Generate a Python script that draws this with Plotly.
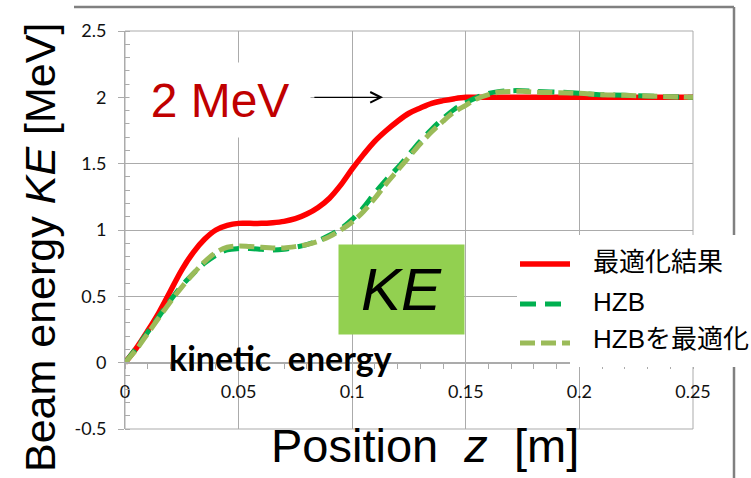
import plotly.graph_objects as go

# ---------------- data ----------------
z_pos = [0.000, 0.005, 0.010, 0.015, 0.020, 0.025, 0.030, 0.035, 0.040, 0.045,
         0.050, 0.055, 0.060, 0.065, 0.070, 0.075, 0.080, 0.085, 0.090, 0.095,
         0.100, 0.105, 0.110, 0.115, 0.120, 0.125, 0.130, 0.135, 0.140, 0.145,
         0.150, 0.155, 0.160, 0.165, 0.170, 0.175, 0.180, 0.190, 0.200, 0.210,
         0.220, 0.230, 0.240, 0.250]

ke_optimized = [0.00, 0.11, 0.24, 0.38, 0.54, 0.70, 0.83, 0.93, 1.00, 1.035,
                1.05, 1.05, 1.05, 1.055, 1.065, 1.085, 1.12, 1.17, 1.24, 1.34,
                1.46, 1.57, 1.67, 1.75, 1.82, 1.88, 1.92, 1.955, 1.975, 1.99,
                2.00, 2.00, 2.00, 2.00, 2.00, 2.00, 2.00, 2.00, 2.00, 2.00,
                2.00, 2.00, 2.00, 2.00]

ke_hzb = [0.00, 0.11, 0.23, 0.35, 0.47, 0.58, 0.67, 0.75, 0.81, 0.85,
          0.86, 0.86, 0.855, 0.85, 0.855, 0.87, 0.89, 0.92, 0.96, 1.01,
          1.08, 1.17, 1.28, 1.38, 1.47, 1.57, 1.67, 1.76, 1.84, 1.91,
          1.96, 2.00, 2.03, 2.045, 2.05, 2.05, 2.045, 2.04, 2.03, 2.02,
          2.015, 2.01, 2.005, 2.00]

ke_hzb_opt = [0.00, 0.10, 0.22, 0.34, 0.46, 0.57, 0.67, 0.76, 0.83, 0.87,
              0.88, 0.875, 0.87, 0.865, 0.865, 0.875, 0.89, 0.915, 0.95, 1.00,
              1.06, 1.14, 1.24, 1.35, 1.45, 1.55, 1.65, 1.74, 1.82, 1.89,
              1.94, 1.99, 2.02, 2.04, 2.045, 2.045, 2.04, 2.035, 2.03, 2.02,
              2.015, 2.01, 2.005, 2.00]

series_names = ["最適化結果", "HZB", "HZBを最適化"]

x_tickvals = [0, 0.05, 0.10, 0.15, 0.20, 0.25]
x_ticktext = ["0", "0.05", "0.1", "0.15", "0.2", "0.25"]
y_tickvals = [-0.5, 0, 0.5, 1.0, 1.5, 2.0, 2.5]
y_ticktext = ["-0.5", "0", "0.5", "1", "1.5", "2", "2.5"]

# ---------------- styles ----------------
RED = "#FF0000"
DGREEN = "#00B050"
LGREEN = "#9BBB59"
GRID = "#ababab"
FRAME = "#808080"
TICKFONT = dict(family="Lato, Carlito, sans-serif", size=18, color="#111")
SANS = "Liberation Sans, Arial, Noto Sans CJK JP, sans-serif"

W, H = 751, 478
L, R, T, B = 125, 58, 31, 49
PW, PH = W - L - R, H - T - B


def px(xp):
    return (xp - L) / PW


def py(yp):
    return (H - B - yp) / PH


fig = go.Figure()
fig.add_trace(go.Scatter(x=z_pos, y=ke_optimized, name=series_names[0], mode="lines",
                         line=dict(color=RED, width=5.5, shape="spline")))
fig.add_trace(go.Scatter(x=z_pos, y=ke_hzb, name=series_names[1], mode="lines",
                         line=dict(color=DGREEN, width=5, dash="16px,9px", shape="spline")))
fig.add_trace(go.Scatter(x=z_pos, y=ke_hzb_opt, name=series_names[2], mode="lines",
                         line=dict(color=LGREEN, width=5, dash="15px,6px", shape="spline")))

fig.update_layout(
    width=W, height=H,
    margin=dict(l=L, r=R, t=T, b=B, pad=0),
    paper_bgcolor="white", plot_bgcolor="white",
    showlegend=False,
    xaxis=dict(range=[0, 0.25], tickmode="array", tickvals=x_tickvals, ticktext=x_ticktext,
               showgrid=True, gridcolor=GRID, gridwidth=1, zeroline=False,
               showline=True, linecolor=GRID, linewidth=1,
               anchor="free", position=1 / 6,
               ticks="outside", ticklen=5, tickcolor=GRID,
               minor=dict(tickmode="linear", tick0=0, dtick=0.01, ticks="outside",
                          ticklen=5, tickcolor=GRID, showgrid=False),
               tickfont=TICKFONT, ticklabelstandoff=8),
    yaxis=dict(range=[-0.5, 2.5], tickmode="array", tickvals=y_tickvals, ticktext=y_ticktext,
               showgrid=True, gridcolor=GRID, gridwidth=1, zeroline=False,
               showline=True, linecolor=GRID, linewidth=1,
               ticks="outside", ticklen=6, tickcolor=GRID,
               minor=dict(tickmode="linear", tick0=0, dtick=0.1, ticks="inside",
                          ticklen=5, tickcolor=GRID, showgrid=False),
               tickfont=TICKFONT, ticklabelstandoff=8),
)

shapes = [
    # plot-area box
    dict(type="rect", xref="paper", yref="paper", x0=0, x1=1, y0=0, y1=1,
         line=dict(color=GRID, width=1), layer="below"),
    # outer frame (top and right)
    dict(type="line", xref="paper", yref="paper", x0=px(74), x1=px(734), y0=py(7), y1=py(7),
         line=dict(color=FRAME, width=2.5)),
    dict(type="line", xref="paper", yref="paper", x0=px(734), x1=px(734), y0=py(7), y1=py(480),
         line=dict(color=FRAME, width=2.5)),
    # legend background
    dict(type="rect", xref="paper", yref="paper", x0=px(517), x1=px(570), y0=py(359), y1=py(235),
         line=dict(width=0), fillcolor="white", layer="above"),
    dict(type="rect", xref="paper", yref="paper", x0=px(570), x1=px(760), y0=py(367), y1=py(235),
         line=dict(width=0), fillcolor="white", layer="above"),
    # legend samples
    dict(type="line", xref="paper", yref="paper", x0=px(520), x1=px(570), y0=py(264), y1=py(264),
         line=dict(color=RED, width=5.5), layer="above"),
    dict(type="line", xref="paper", yref="paper", x0=px(520), x1=px(570), y0=py(304), y1=py(304),
         line=dict(color=DGREEN, width=5, dash="16px,9px"), layer="above"),
    dict(type="line", xref="paper", yref="paper", x0=px(520), x1=px(570), y0=py(343), y1=py(343),
         line=dict(color=LGREEN, width=5, dash="15px,6px"), layer="above"),
]
fig.update_layout(shapes=shapes)

ann = [
    # axis titles
    dict(text="Beam energy <i>KE</i> [MeV]", xref="paper", yref="paper",
         x=px(40), y=py(248), xanchor="center", yanchor="middle", textangle=-90,
         showarrow=False, font=dict(family=SANS, size=43, color="black")),
    dict(text="Position\u00a0\u00a0<i>z</i>\u00a0\u00a0[m]", xref="paper", yref="paper",
         x=px(425), y=py(446), xanchor="center", yanchor="middle",
         showarrow=False, font=dict(family=SANS, size=47, color="black")),
    # 2 MeV label
    dict(text="2 MeV", xref="paper", yref="paper", x=px(220), y=py(100),
         xanchor="center", yanchor="middle", width=180, height=74, bgcolor="white",
         borderpad=0, showarrow=False, font=dict(family=SANS, size=48, color="#C00000")),
    # arrow
    dict(text="", x=0.1136, y=2.0, xref="x", yref="y", ax=0.0827, ay=2.0, axref="x", ayref="y",
         showarrow=True, arrowhead=5, arrowsize=1.6, arrowwidth=1.3, arrowcolor="black"),
    # KE box
    dict(text="<i>KE</i>", xref="paper", yref="paper", x=px(401.5), y=py(289.5),
         xanchor="center", yanchor="middle", width=125, height=89, bgcolor="#92D050",
         borderpad=0, showarrow=False, font=dict(family=SANS, size=60, color="black")),
    # kinetic energy
    dict(text="<b>kinetic\u00a0\u00a0energy</b>", xref="paper", yref="paper", x=px(280), y=py(357),
         xanchor="center", yanchor="middle", showarrow=False,
         font=dict(family="Lato, Carlito, sans-serif", size=34, color="black", weight=900)),
]
leg_y = [262, 302, 339]
for name, yy in zip(series_names, leg_y):
    ann.append(dict(text=name, xref="paper", yref="paper", x=px(591), y=py(yy),
                    xanchor="left", yanchor="middle", showarrow=False,
                    font=dict(family=SANS, size=26, color="black")))
fig.update_layout(annotations=ann)

fig.write_html("out.html", config={"displayModeBar": False},
               post_script="document.body.style.margin='0px';")
